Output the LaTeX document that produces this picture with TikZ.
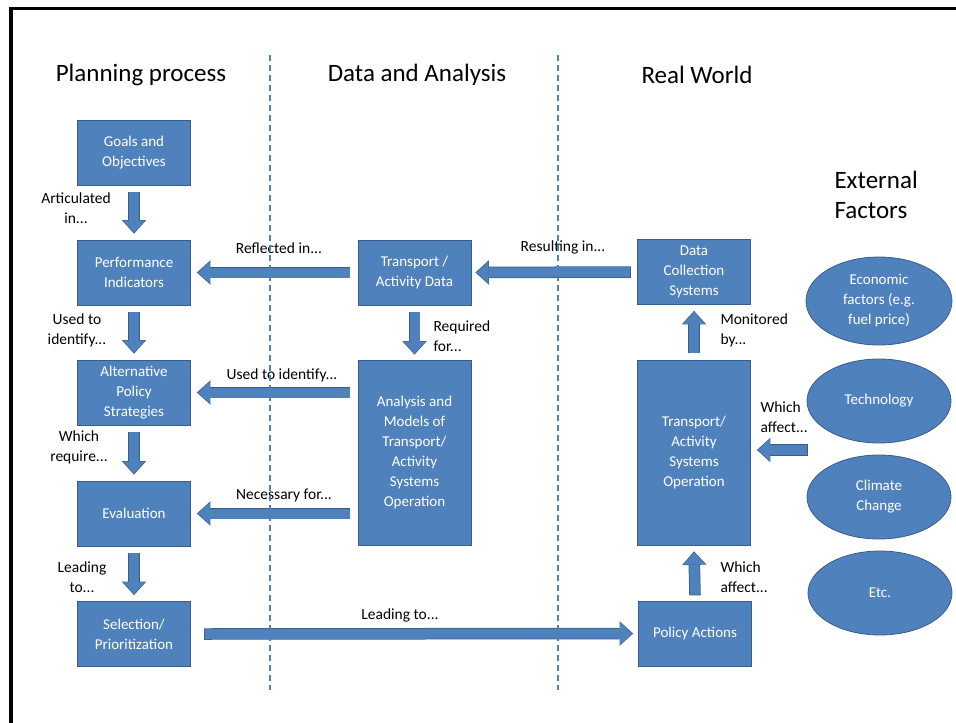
\documentclass[tikz,border=0pt]{standalone}
\usepackage{fontspec}
\setmainfont{Carlito}
\usetikzlibrary{arrows.meta, shapes.geometric, calc}
\definecolor{boxblue}{HTML}{4F81BD}
\definecolor{boxedge}{HTML}{385D8A}

\begin{document}
\begin{tikzpicture}[x=1pt, y=-1pt]
\tikzset{
  blockbox/.style={draw=boxedge, fill=boxblue, line width=0.8pt, text=white,
    minimum width=113pt, minimum height=65pt, inner sep=0pt, align=center,
    font=\fontsize{15}{20}\selectfont},
  tallbox/.style={blockbox, minimum height=185pt},
  factor/.style={ellipse, draw=boxedge, fill=boxblue, line width=0.8pt, text=white,
    minimum width=144pt, minimum height=84pt, inner sep=0pt, align=center,
    font=\fontsize{15}{20}\selectfont},
  blockarrow/.style={boxblue, line width=10pt,
    -{Triangle[width=22pt, length=12pt, line width=0pt]},
    preaction={draw=boxedge, line width=11.5pt,
      -{Triangle[width=24.5pt, length=13.5pt, line width=0pt, fill=boxedge]},
      shorten >=-1pt, shorten <=-0.75pt}},
  steplabel/.style={align=center, font=\fontsize{15.5}{20}\selectfont},
  heading/.style={font=\fontsize{25}{30}\selectfont},
  divider/.style={boxblue, line width=1.3pt, dash pattern=on 6pt off 4pt},
}
  \useasboundingbox (0,0) rectangle (956,723);

  % Frame (top and left edge only)
  \draw[line width=3.5pt] (11,723) -- (11,8.5) -- (956,8.5);

  % Column headings
  \node[heading] (hplan) at (141,75) {Planning process};
  \node[heading] (hdata) at (417,75) {Data and Analysis};
  \node[heading] (hreal) at (697,75) {Real World};
  \node[heading, align=left, anchor=west] (hext) at (831,195) {External\\Factors};

  % Planning process column
  \node[blockbox] (goals) at (134,152.5) {Goals and\\Objectives};
  \node[blockbox] (perf) at (134,272.5) {Performance\\Indicators};
  \node[blockbox] (altpol) at (134,392.5) {Alternative\\Policy\\Strategies};
  \node[blockbox] (evalu) at (134,513.5) {Evaluation};
  \node[blockbox] (select) at (134,634) {Selection/\\Prioritization};

  % Data and analysis column
  \node[blockbox] (tdata) at (414.5,272.5) {Transport /\\Activity Data};
  \node[tallbox] (analysis) at (414.5,452.5)
    {Analysis and\\Models of\\Transport/\\Activity\\Systems\\Operation};

  % Real world column
  \node[blockbox] (dcoll) at (694,272) {Data\\Collection\\Systems};
  \node[tallbox] (tsys) at (694,452.5)
    {Transport/\\Activity\\Systems\\Operation};
  \node[blockbox] (policy) at (695,633.5) {Policy Actions};

  % External factors
  \node[factor, minimum width=146pt, minimum height=88pt] (econ) at (879,301)
    {Economic\\factors (e.g.\\fuel price)};
  \node[factor] (tech) at (879,401) {Technology};
  \node[factor] (climate) at (879,497) {Climate\\Change};
  \node[factor] (etcf) at (880,593) {Etc.};
  \coordinate (ext) at (807,450);

  % Vertical arrows
  \draw[blockarrow] ([yshift=-7pt]goals.south) -- ([yshift=7pt]perf.north);
  \draw[blockarrow] ([yshift=-7pt]perf.south) -- ([yshift=7pt]altpol.north);
  \draw[blockarrow] ([yshift=-7pt]altpol.south) -- ([yshift=7pt]evalu.north);
  \draw[blockarrow] ([yshift=-7pt]evalu.south) -- ([yshift=7pt]select.north);
  \draw[blockarrow] ([yshift=-7pt]tdata.south) -- ([yshift=6pt]analysis.north);
  \draw[blockarrow] ([yshift=6pt]policy.north) -- ([yshift=-7pt]tsys.south);
  \draw[blockarrow] ([yshift=7pt]tsys.north) -- ([yshift=-7pt]dcoll.south);

  % Horizontal arrows
  \draw[blockarrow] ([xshift=-8pt]tdata.west) -- ([xshift=7pt]perf.east);
  \draw[blockarrow] ([xshift=-7pt]dcoll.west) -- ([xshift=5pt]tdata.east);
  \draw[blockarrow] ([xshift=-8pt]analysis.west |- altpol.east) -- ([xshift=7pt]altpol.east);
  \draw[blockarrow] ([xshift=-8pt]analysis.west |- evalu.east) -- ([xshift=7pt]evalu.east);
  \draw[blockarrow] ([xshift=14pt]select.east) -- ([xshift=-6pt]policy.west);
  \draw[blockarrow] (ext) -- ([xshift=7pt]tsys.east |- ext);

  % Arrow labels
  \node[steplabel] (lart) at (76,208) {Articulated\\in...};
  \node[steplabel] (lused) at (77,330) {Used to\\identify...};
  \node[steplabel] (lreq) at (79,447) {Which\\require...};
  \node[steplabel] (llead) at (82,577) {Leading\\to...};
  \node[steplabel] (lrefl) at (279,248) {Reflected in...};
  \node[steplabel] (lident) at (282,375) {Used to identify...};
  \node[steplabel] (lnec) at (284,495) {Necessary for...};
  \node[steplabel] (lto) at (400,615) {Leading to...};
  \node[steplabel] (lres) at (563,247) {Resulting in...};
  \node[steplabel, align=left, anchor=west] (lreqf) at (430,336) {Required\\for...};
  \node[steplabel, align=left, anchor=west] (lmon) at (717,330) {Monitored\\by...};
  \node[steplabel, align=left, anchor=west] (laff) at (757,417) {Which\\affect...};
  \node[steplabel, align=left, anchor=west] (laffp) at (717,577) {Which\\affect...};

  % Column dividers
  \draw[divider] (270,55) -- (270,690);
  \draw[divider] (558,55) -- (558,690);
\end{tikzpicture}
\end{document}
